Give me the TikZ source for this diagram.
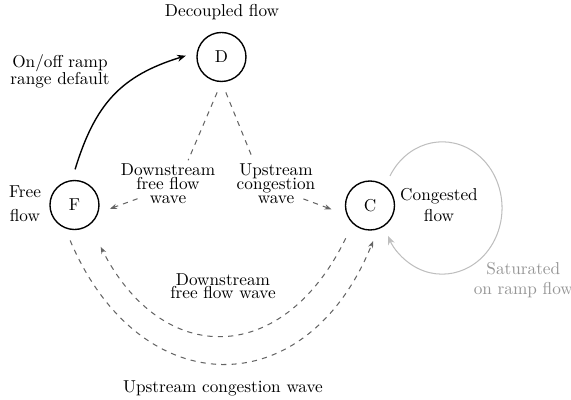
\documentclass[tikz,border=0pt]{standalone}
\usepackage{xcolor}
\usepackage{tikz}
\usetikzlibrary{arrows.meta}
\definecolor{WaveGray}{RGB}{100,100,100}
\definecolor{LoopGray}{RGB}{190,190,190}
\definecolor{SatGray}{RGB}{150,150,150}

\begin{document}
\begin{tikzpicture}[
          st/.style={circle, draw=black, thick, minimum size=1cm,
                     inner sep=0pt, outer sep=6.5pt},
          lbl/.style={align=center, inner sep=0pt},
          dsh/.style={dashed, semithick, WaveGray},
          tip/.style={-{Stealth[length=4pt, width=3pt]}},
          arr/.style={-{Stealth[length=5pt, width=4pt]}, thick},
          sat/.style={-{Stealth[length=5pt, width=4pt]}, semithick, LoopGray}
        ]
        \useasboundingbox (0,0) rectangle (11.653,-8.163);
        % States
        \foreach \n/\x/\y in {D/4.520/-1.163, F/1.520/-4.184, C/7.551/-4.194} {
          \node[st] (\n) at (\x,\y) {\n};
        }
        % State labels
        \node[lbl, anchor=base] (declab) at (4.531,-0.341) {Decoupled flow};
        \node[lbl] (freelab) at (0.510,-4.150) {Free\\[2pt]flow};
        \node[lbl] (conglab) at (8.959,-4.180) {Congested\\flow};

        % Ramp default
        \node[lbl] (ramplab) at (1.224,-1.459) {On/off ramp\\[-2pt]range default};
        \draw[arr] (F.89) to[out=73, in=197, looseness=1.1] (D.178);

        % Waves out of D
        \node[lbl] (dwlab) at (3.429,-3.755)
              {Downstream\\[-3.8pt]free flow\\[-3.8pt]wave};
        \node[lbl] (uplab) at (5.633,-3.755)
              {Upstream\\[-3.8pt]congestion\\[-3.8pt]wave};
        \coordinate (dwbend) at (3.633,-3.755);
        \coordinate (upbend) at (5.367,-3.755);
        \draw[dsh, shorten >=15pt] (D.263) -- (dwbend);
        \draw[dsh, tip, shorten <=25pt] (dwbend) -- (F.-6);
        \draw[dsh, shorten >=16pt] (D.277) -- (upbend);
        \draw[dsh, tip, shorten <=25pt, shorten >=2pt] (upbend) -- (C.188);

        % Waves between F and C
        \draw[dsh, tip, shorten <=3pt, shorten >=8pt]
              (C.-128) to[out=-116, in=-63, looseness=1.5] (F.-56);
        \draw[dsh, tip] (F.-97) to[out=-67, in=-112, looseness=1.5] (C.-85);
        \node[lbl] (dwlab2) at (4.551,-5.837) {Downstream\\[-4.2pt]free flow wave};
        \node[lbl, anchor=base] (uplab2) at (4.551,-8.0) {Upstream congestion wave};

        % Saturated on ramp flow
        \draw[sat] (C.56) arc[start angle=151, end angle=-155,
                              x radius=1.22cm, y radius=1.35cm];
        \node[lbl, SatGray] (satlab) at (10.680,-5.714) {Saturated\\on ramp flow};
      \end{tikzpicture}
\end{document}
